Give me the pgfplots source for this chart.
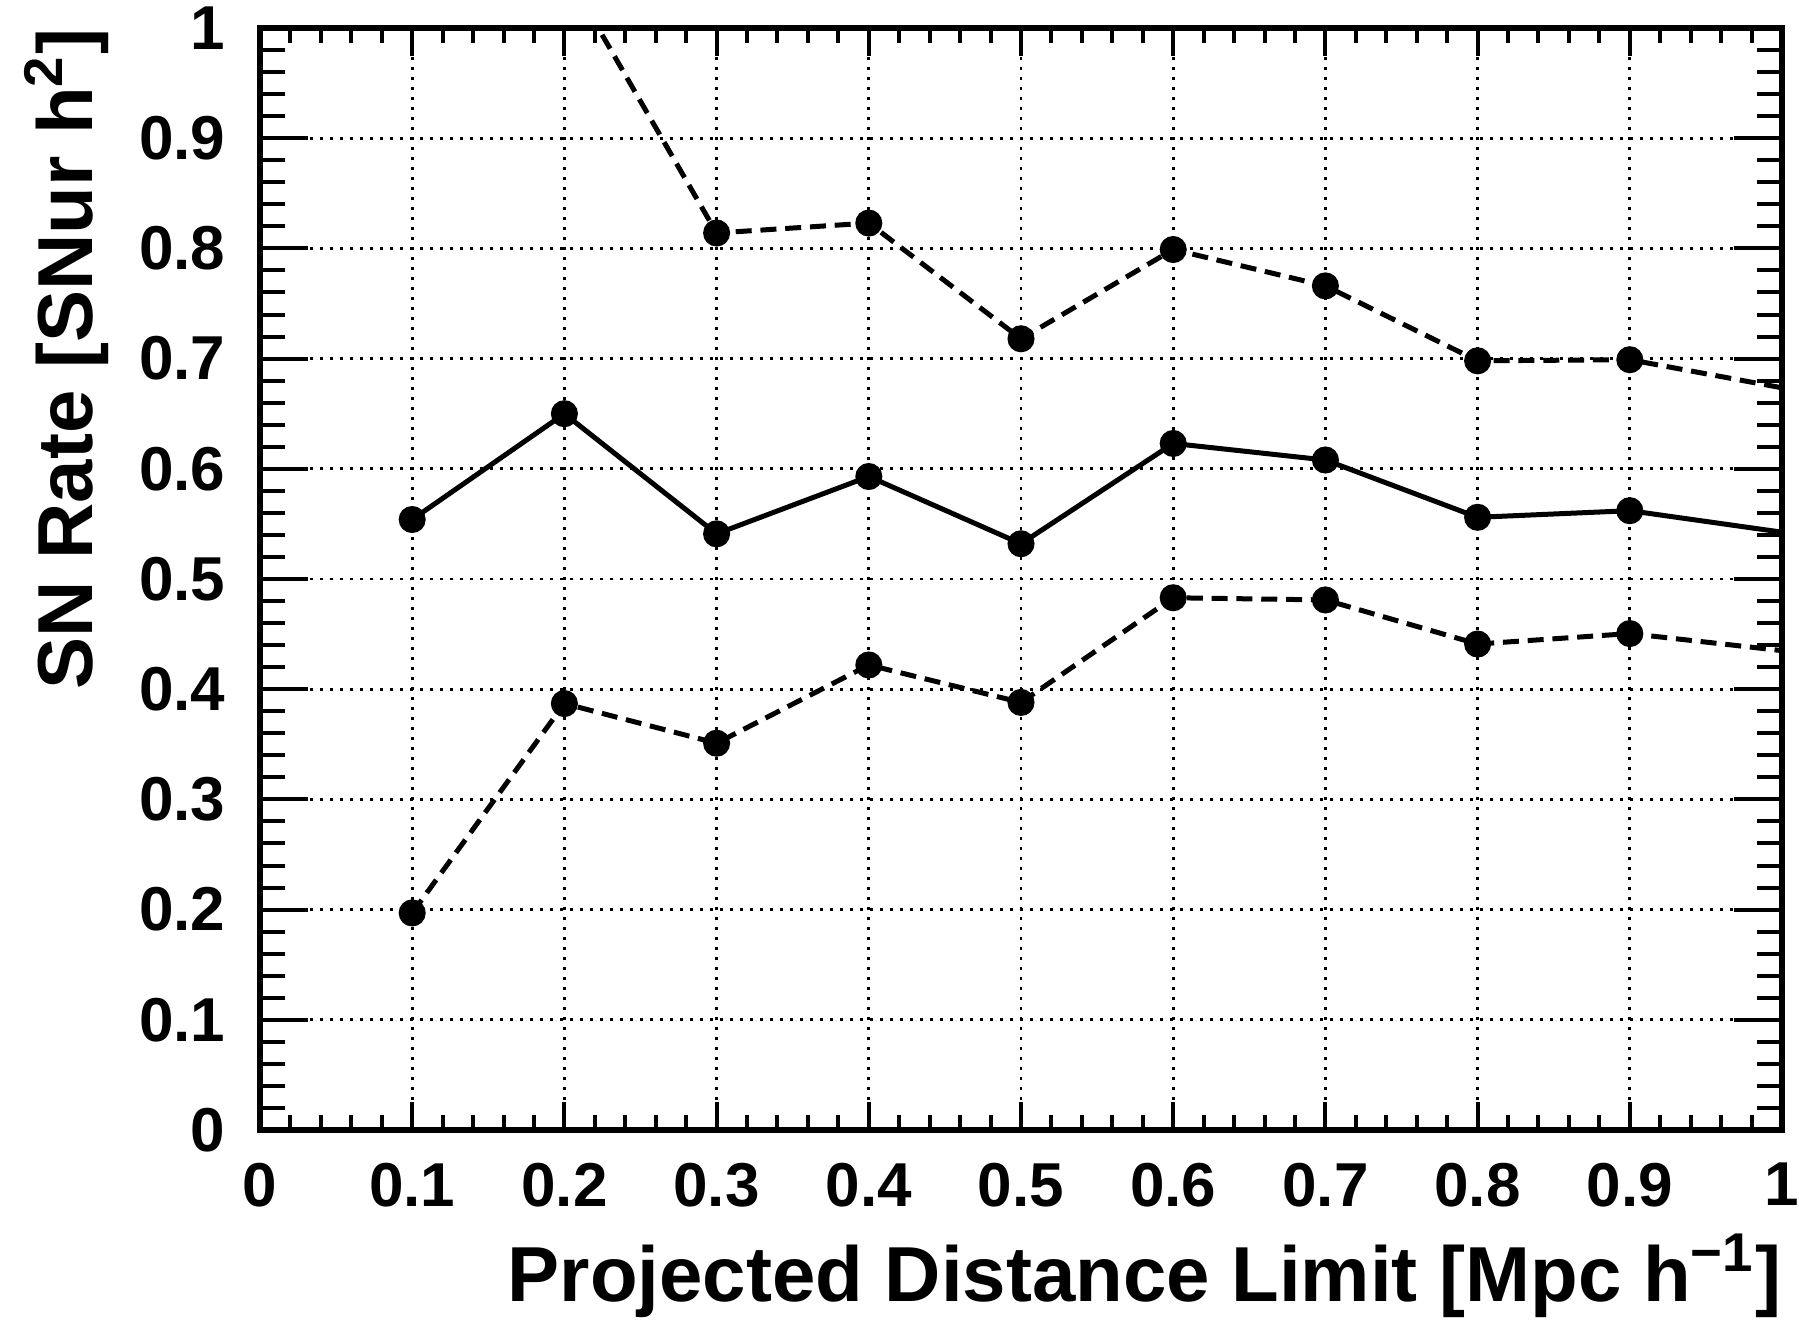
\documentclass[border=0pt]{standalone}
\usepackage{pgfplots}
\pgfplotsset{compat=1.18}
\usepackage{fontspec}
\setmainfont{Liberation Sans}
\begin{document}
\begin{tikzpicture}
\useasboundingbox (-65pt,-48pt) rectangle (384.75pt,282.5pt);
\pgfplotsset{
  rootframe/.style={
    at={(0,0)}, anchor=south west,
    scale only axis, width=380.5pt, height=275.5pt,
    xmin=0, xmax=1, ymin=0, ymax=1,
    xtick={0,0.1,...,1}, ytick={0,0.1,...,1},
    minor x tick num=4, minor y tick num=4,
    tick align=inside,
    axis line style={line width=1.5pt},
    every tick/.style={black, line width=1pt},
    /pgf/number format/assume math mode=true,
    ticklabel style={font=\bfseries\fontsize{15.5}{18}\selectfont},
  }
}
\begin{axis}[rootframe,
  xtick pos=both, ytick pos=both,
  major tick length=7pt, minor tick length=3.75pt,
  grid=major,
  major grid style={black, line width=0.7pt, dash pattern=on 0.7pt off 1.8pt},
  xticklabel style={anchor=north, inner sep=0pt, yshift=-8pt},
  yticklabel style={anchor=east, inner sep=0pt, xshift=-8.5pt},
  xlabel={Projected Distance Limit [Mpc h\textsuperscript{−1}]},
  ylabel={SN Rate [SNur h\textsuperscript{2}]},
  label style={font=\bfseries\fontsize{19.5}{23}\selectfont},
  xlabel style={at={(axis description cs:1,-0.156)}, anchor=base east, inner sep=0pt},
  ylabel style={at={(axis description cs:-0.110,1)}, anchor=base east, inner sep=0pt},
  every axis plot/.append style={black, line width=1.25pt, mark size=2.75pt,
     mark options={solid, fill=black}},
]
% central value
\addplot[solid, mark=none] coordinates {
 (0.1,0.554) (0.2,0.650) (0.3,0.541) (0.4,0.593) (0.5,0.532)
 (0.6,0.623) (0.7,0.608) (0.8,0.556) (0.9,0.562) (1.1,0.523)};
\addplot[only marks, mark=*] coordinates {
 (0.1,0.554) (0.2,0.650) (0.3,0.541) (0.4,0.593) (0.5,0.532)
 (0.6,0.623) (0.7,0.608) (0.8,0.556) (0.9,0.562)};
% upper bound
\addplot[dash pattern=on 4pt off 2.2pt, mark=none] coordinates {
 (0.1,1.20) (0.2,1.053) (0.3,0.814) (0.4,0.823) (0.5,0.718)
 (0.6,0.799) (0.7,0.766) (0.8,0.698) (0.9,0.699) (1.1,0.648)};
\addplot[only marks, mark=*] coordinates {
 (0.3,0.814) (0.4,0.823) (0.5,0.718)
 (0.6,0.799) (0.7,0.766) (0.8,0.698) (0.9,0.699)};
% lower bound
\addplot[dash pattern=on 4pt off 2.2pt, mark=none] coordinates {
 (0.1,0.197) (0.2,0.387) (0.3,0.351) (0.4,0.422) (0.5,0.388)
 (0.6,0.483) (0.7,0.481) (0.8,0.441) (0.9,0.4505) (1.1,0.4195)};
\addplot[only marks, mark=*] coordinates {
 (0.1,0.197) (0.2,0.387) (0.3,0.351) (0.4,0.422) (0.5,0.388)
 (0.6,0.483) (0.7,0.481) (0.8,0.441) (0.9,0.4505)};
\end{axis}
\begin{axis}[rootframe,
  xtick=\empty, minor x tick num=0,
  ytick pos=both,
  major tick length=12pt, minor tick length=6.25pt,
  yticklabels={},
]
\end{axis}
\end{tikzpicture}
\end{document}
